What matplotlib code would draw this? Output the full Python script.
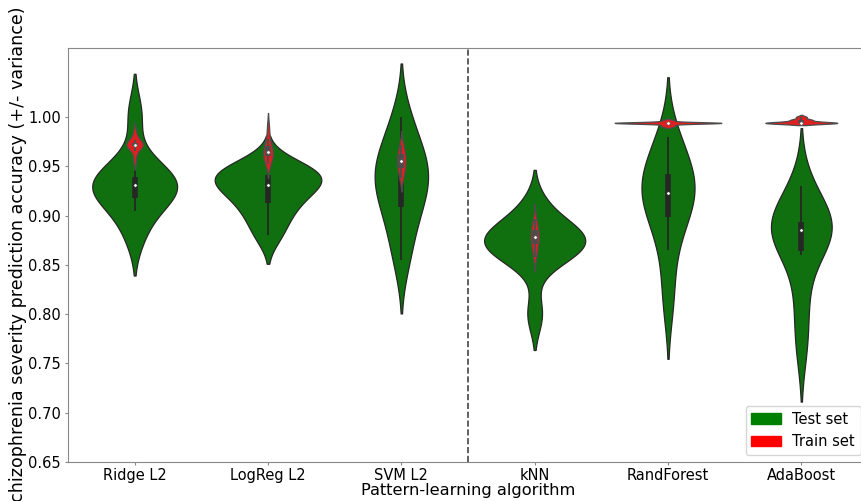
import matplotlib
matplotlib.use("Agg")
import matplotlib.pyplot as plt
from matplotlib.patches import Patch
import numpy as np
import pandas as pd
import seaborn as sns

algorithms = ["Ridge L2", "LogReg L2", "SVM L2", "kNN", "RandForest", "AdaBoost"]

# cross-validation accuracies per fold
ridge_test = [0.88, 0.905, 0.915, 0.925, 0.93, 0.932, 0.935, 0.94, 0.955, 1.003]
logreg_test = [0.88, 0.898, 0.91, 0.92, 0.928, 0.934, 0.938, 0.942, 0.946, 0.952]
svm_test = [0.855, 0.885, 0.905, 0.92, 0.932, 0.94, 0.95, 0.96, 0.975, 1.0]
knn_test = [0.80, 0.855, 0.862, 0.868, 0.872, 0.876, 0.879, 0.883, 0.89, 0.91]
rf_test = [0.815, 0.865, 0.895, 0.91, 0.92, 0.925, 0.935, 0.945, 0.96, 0.98]
ada_test = [0.77, 0.815, 0.86, 0.877, 0.884, 0.887, 0.89, 0.895, 0.905, 0.93]

ridge_train = [0.956, 0.966, 0.970, 0.971, 0.972, 0.972, 0.973, 0.974, 0.977, 0.985]
logreg_train = [0.952, 0.956, 0.96, 0.962, 0.963, 0.965, 0.968, 0.972, 0.978, 0.99]
svm_train = [0.938, 0.943, 0.947, 0.951, 0.954, 0.957, 0.96, 0.963, 0.967, 0.972]
knn_train = [0.858, 0.865, 0.87, 0.874, 0.877, 0.879, 0.882, 0.886, 0.89, 0.897]
rf_train = [0.990, 0.991, 0.992] + [0.994] * 15 + [0.996, 0.997]
ada_train = [0.994] * 14 + [0.997] * 4 + [1.0] * 2

yticks = [0.65, 0.70, 0.75, 0.80, 0.85, 0.90, 0.95, 1.00]


def long_form(series):
    rows = []
    for name, vals in zip(algorithms, series):
        for v in vals:
            rows.append((name, v))
    return pd.DataFrame(rows, columns=["algo", "acc"])


def draw_boxes(ax, series, gray, z):
    # old-style seaborn inner box: whisker line, IQR bar, white median dot
    for i, vals in enumerate(series):
        d = np.asarray(vals)
        q25, q50, q75 = np.percentile(d, [25, 50, 75])
        lim = 1.5 * (q75 - q25)
        lo = d[d >= q25 - lim].min()
        hi = d[d <= q75 + lim].max()
        ax.plot([i, i], [lo, hi], color=gray, linewidth=1.3, zorder=z, solid_capstyle="butt")
        ax.plot([i, i], [q25, q75], color=gray, linewidth=4.0, zorder=z, solid_capstyle="butt")
        ax.scatter(i, q50, color="white", edgecolor=gray, s=6, linewidth=0.4, zorder=z + 0.5)


def violins(ax, df, color, gray, z):
    n0 = len(ax.collections)
    sns.violinplot(data=df, x="algo", y="acc", order=algorithms, color=color,
                   inner=None, linewidth=0.9, linecolor=gray, ax=ax)
    for c in ax.collections[n0:]:
        c.set_zorder(z)


def main():
    test_series = [ridge_test, logreg_test, svm_test, knn_test, rf_test, ada_test]
    train_series = [ridge_train, logreg_train, svm_train, knn_train, rf_train, ada_train]

    fig = plt.figure(figsize=(8.61, 5.01), dpi=100)
    ax = fig.add_axes([68 / 861, 39 / 501, 800 / 861, 414 / 501])

    violins(ax, long_form(test_series), "green", "#262626", 1)
    draw_boxes(ax, test_series, "#262626", 2)
    violins(ax, long_form(train_series), "red", "#4c4c4c", 3)
    draw_boxes(ax, train_series, "#4c4c4c", 4)

    ax.axvline(2.5, color="#444444", linestyle="--", linewidth=1.2, zorder=5)

    ax.set_xlim(-0.5, 5.5)
    ax.set_ylim(0.65, 1.07)
    ax.set_yticks(yticks)
    ax.set_yticklabels([f"{t:.2f}" for t in yticks])
    ax.tick_params(axis="both", labelsize=10.5, length=2, color="#888888")
    ax.tick_params(axis="y", pad=3)
    ax.tick_params(axis="x", pad=2)

    ax.set_xlabel("Pattern-learning algorithm", fontsize=11.7)
    ax.xaxis.set_label_coords(0.5, -0.05)
    ax.set_ylabel("schizophrenia severity prediction accuracy (+/- variance)", fontsize=12.6)
    ax.yaxis.set_label_coords(-0.051, 0.49)

    for s in ax.spines.values():
        s.set_color("#888888")

    handles = [Patch(color="green", label="Test set"), Patch(color="red", label="Train set")]
    ax.legend(handles=handles, loc="lower right", fontsize=10.5)

    fig.savefig("out.png", dpi=100)


if __name__ == "__main__":
    main()
